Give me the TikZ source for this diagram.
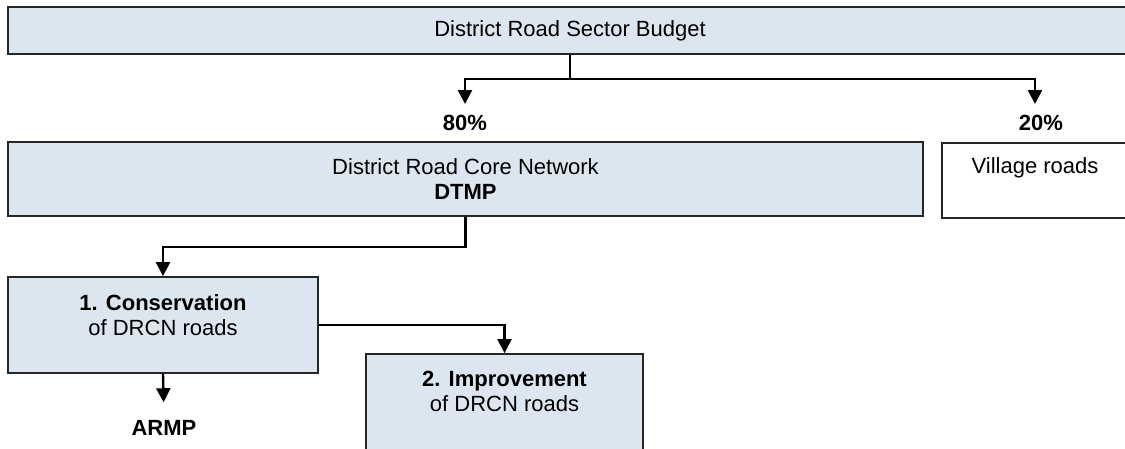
\documentclass[tikz,border=0pt]{standalone}
\usepackage{fontspec}
\setmainfont{Liberation Sans}
\usetikzlibrary{arrows.meta}
\definecolor{cajaazul}{HTML}{DCE6F1}
\tikzset{
  caja/.style={draw=black!85, line width=1.8pt, fill=cajaazul, align=center,
    inner sep=0pt, font=\fontsize{22}{25}\selectfont},
  cajablanca/.style={caja, fill=white},
  etiqueta/.style={inner sep=2pt, font=\fontsize{22}{25}\selectfont\bfseries},
  linea/.style={line width=2.4pt},
  flecha/.style={linea, -{Triangle[length=14pt,width=14pt]}}
}
\begin{document}
\begin{tikzpicture}[x=1pt,y=-1pt]
\useasboundingbox (0,0) rectangle (1125,449);

% Presupuesto del sector
\node[caja, minimum width=1124pt, minimum height=47pt] (budget) at (570,30.5) {District Road Sector Budget};

% Porcentajes
\node[etiqueta] (p80) at (465,123) {80\%};
\node[etiqueta] (p20) at (1041,123) {20\%};

% Red principal y caminos de aldea
\node[caja, minimum width=915pt, minimum height=74pt] (drcn) at (465.5,179) {District Road Core Network\\\textbf{DTMP}};
\node[cajablanca, minimum width=186pt, minimum height=75pt, text depth=29pt] (village) at (1035,180.5) {Village roads};

% Conservacion y mejora
\node[caja, minimum width=310pt, minimum height=96pt, text depth=20pt] (cons) at (163,325) {\textbf{1. Conservation}\\of DRCN roads};
\node[caja, minimum width=277pt, minimum height=116pt, text depth=41pt] (impr) at (504.5,412) {\textbf{2. Improvement}\\of DRCN roads};
\node[etiqueta] (armp) at (164,428) {ARMP};

% Conectores
\coordinate (split) at (570,79);
\draw[linea] (budget.south) -- (split);
\draw[flecha, shorten >=9pt] (split) -| (p80.north);
\draw[flecha, shorten >=9pt] (split) -| ([xshift=-6pt]p20.north);
\draw[flecha] (drcn.south) -- ++(0,30) -| (cons.north);
\draw[flecha] (cons.east) -| (impr.north);
\draw[flecha, shorten >=16pt] (cons.south) -- (armp.north);

\end{tikzpicture}
\end{document}
